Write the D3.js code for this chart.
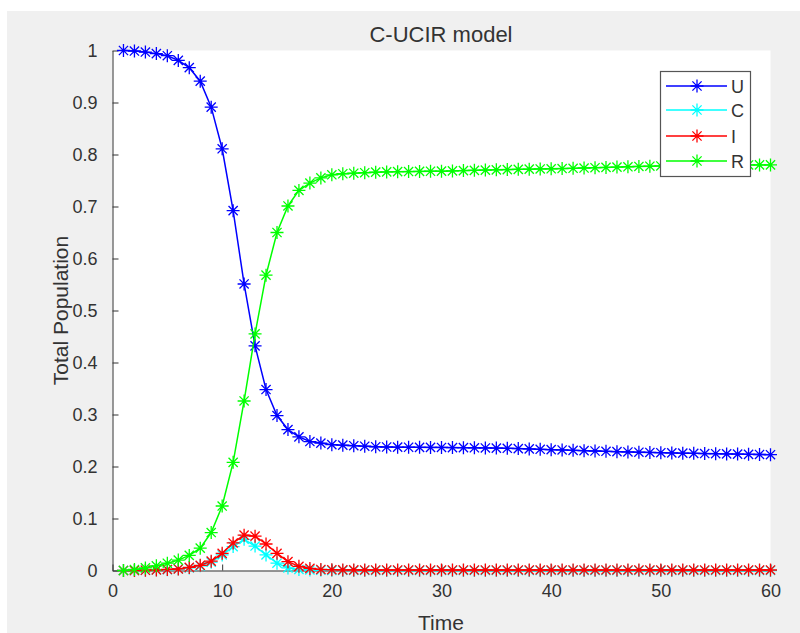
<!DOCTYPE html>
<html>
<head>
<meta charset="utf-8">
<script src="https://cdn.jsdelivr.net/npm/d3@7"></script>
<style>
  html, body { margin: 0; padding: 0; background: #ffffff; }
  svg { display: block; }
  text { font-family: "Liberation Sans", Arial, Helvetica, sans-serif; fill: #333333; }
</style>
</head>
<body>
<svg id="chart" width="800" height="633"></svg>
<script>
// Time steps (days)
const time = [1,2,3,4,5,6,7,8,9,10,11,12,13,14,15,16,17,18,19,20,
              21,22,23,24,25,26,27,28,29,30,31,32,33,34,35,36,37,38,39,40,
              41,42,43,44,45,46,47,48,49,50,51,52,53,54,55,56,57,58,59,60];

// U: unaware / susceptible fraction
const U = [1.000,0.999,0.997,0.994,0.990,0.981,0.967,0.941,0.891,0.811,
           0.692,0.551,0.432,0.348,0.298,0.271,0.257,0.248,0.245,0.242,
           0.241,0.240,0.239,0.238,0.2375,0.2372,0.237,0.2368,0.2367,0.2366,
           0.2364,0.2362,0.236,0.2357,0.2354,0.235,0.2344,0.2338,0.2331,0.2324,
           0.2318,0.2311,0.2305,0.2298,0.2292,0.2286,0.228,0.2275,0.227,0.2265,
           0.2261,0.2257,0.2253,0.2249,0.2246,0.2242,0.2238,0.2234,0.2231,0.2227];

// C: carrier fraction
const C = [0.000,0.000,0.0005,0.001,0.0015,0.003,0.005,0.009,0.016,0.030,
           0.046,0.060,0.047,0.030,0.014,0.005,0.002,0.001,0.0005,0.0003,
           0.0002,0.0001,0,0,0,0,0,0,0,0,
           0,0,0,0,0,0,0,0,0,0,
           0,0,0,0,0,0,0,0,0,0,
           0,0,0,0,0,0,0,0,0,0];

// I: infected fraction
const I = [0.000,0.000,0.0005,0.001,0.002,0.003,0.006,0.010,0.018,0.033,
           0.053,0.068,0.066,0.051,0.033,0.017,0.008,0.004,0.002,0.0015,
           0.0012,0.0011,0.001,0.001,0.001,0.001,0.001,0.001,0.001,0.001,
           0.001,0.001,0.001,0.001,0.001,0.001,0.001,0.001,0.001,0.001,
           0.001,0.001,0.001,0.001,0.001,0.001,0.001,0.001,0.001,0.001,
           0.001,0.001,0.001,0.001,0.001,0.001,0.001,0.001,0.001,0.001];

// R: recovered fraction
const R = [0.000,0.002,0.005,0.009,0.014,0.020,0.029,0.043,0.073,0.124,
           0.208,0.326,0.455,0.568,0.650,0.701,0.731,0.745,0.755,0.761,
           0.763,0.764,0.765,0.766,0.7665,0.767,0.7672,0.7675,0.7678,0.768,
           0.7685,0.769,0.7695,0.770,0.7705,0.771,0.7714,0.7718,0.7722,0.7725,
           0.773,0.7735,0.774,0.7746,0.7752,0.7758,0.7764,0.777,0.7775,0.778,
           0.7783,0.7786,0.7789,0.7792,0.7794,0.7796,0.7798,0.7799,0.780,0.780];

const seriesNames = ["U", "C", "I", "R"];
const seriesValues = [U, C, I, R];
const seriesColors = ["#0000ff", "#00ffff", "#ff0000", "#00ff00"];

const xTicks = [0, 10, 20, 30, 40, 50, 60];
const yTicks = [0, 0.1, 0.2, 0.3, 0.4, 0.5, 0.6, 0.7, 0.8, 0.9, 1];

const svg = d3.select("#chart");

// figure background
svg.append("rect").attr("x", 7).attr("y", 11).attr("width", 793).attr("height", 622)
  .attr("fill", "#f0f0f0");

const plot = { left: 112.5, right: 770.5, top: 50.5, bottom: 570.5 };

const x = d3.scaleLinear().domain([0, 60]).range([plot.left, plot.right]);
const y = d3.scaleLinear().domain([0, 1]).range([plot.bottom, plot.top]);

// axes background
svg.append("rect")
  .attr("x", plot.left).attr("y", plot.top)
  .attr("width", plot.right - plot.left).attr("height", plot.bottom - plot.top)
  .attr("fill", "#ffffff");

const axisColor = "#333333";

// x axis (ticks point inward)
const gx = svg.append("g").attr("transform", `translate(0,${plot.bottom})`)
  .call(d3.axisBottom(x).tickValues(xTicks).tickSizeInner(-6).tickSizeOuter(0)
        .tickPadding(14).tickFormat(d3.format("d")));
gx.select(".domain").attr("stroke", axisColor);
gx.selectAll(".tick line").attr("stroke", axisColor);
gx.selectAll(".tick text").attr("font-size", 18).style("fill", "#333")
  .attr("font-family", "Liberation Sans, Arial, sans-serif");

// y axis
const gy = svg.append("g").attr("transform", `translate(${plot.left},0)`)
  .call(d3.axisLeft(y).tickValues(yTicks).tickSizeInner(-6).tickSizeOuter(0)
        .tickPadding(15).tickFormat(d => d3.format("")(+d.toFixed(1))));
gy.select(".domain").attr("stroke", axisColor);
gy.selectAll(".tick line").attr("stroke", axisColor);
gy.selectAll(".tick text").attr("font-size", 18).style("fill", "#333")
  .attr("font-family", "Liberation Sans, Arial, sans-serif");

// asterisk marker path centred on (0,0)
function asterisk(r) {
  const d = r * Math.SQRT1_2;
  return `M${-r},0L${r},0M0,${-r}L0,${r}M${-d},${-d}L${d},${d}M${-d},${d}L${d},${-d}`;
}

const line = d3.line().x((d, i) => x(time[i])).y(d => y(d));

seriesValues.forEach((vals, k) => {
  const g = svg.append("g");
  g.append("path").datum(vals)
    .attr("d", line).attr("fill", "none")
    .attr("stroke", seriesColors[k]).attr("stroke-width", 1.5);
  g.selectAll("path.mk").data(vals).enter().append("path")
    .attr("class", "mk")
    .attr("transform", (d, i) => `translate(${x(time[i])},${y(d)})`)
    .attr("d", asterisk(6.5))
    .attr("fill", "none").attr("stroke", seriesColors[k]).attr("stroke-width", 1.3);
});

// title and axis labels
svg.append("text").attr("x", 441).attr("y", 42).attr("text-anchor", "middle")
  .attr("font-size", 22).text("C-UCIR model");
svg.append("text").attr("x", 441).attr("y", 630).attr("text-anchor", "middle")
  .attr("font-size", 21).text("Time");
svg.append("text").attr("transform", "translate(68,310.5) rotate(-90)")
  .attr("text-anchor", "middle").attr("font-size", 21).text("Total Population");

// legend
const lg = svg.append("g");
lg.append("rect").attr("x", 660.5).attr("y", 71.5).attr("width", 90).attr("height", 105)
  .attr("fill", "#ffffff").attr("stroke", "#555555").attr("stroke-width", 1.2);
const legendRows = [86, 110, 136, 161];
seriesNames.forEach((name, k) => {
  const yy = legendRows[k];
  lg.append("line").attr("x1", 666).attr("x2", 727).attr("y1", yy).attr("y2", yy)
    .attr("stroke", seriesColors[k]).attr("stroke-width", 1.5);
  lg.append("path").attr("transform", `translate(697,${yy})`).attr("d", asterisk(6.5))
    .attr("fill", "none").attr("stroke", seriesColors[k]).attr("stroke-width", 1.3);
  lg.append("text").attr("x", 731).attr("y", yy + 6.5).attr("font-size", 18).text(name);
});
</script>
</body>
</html>
